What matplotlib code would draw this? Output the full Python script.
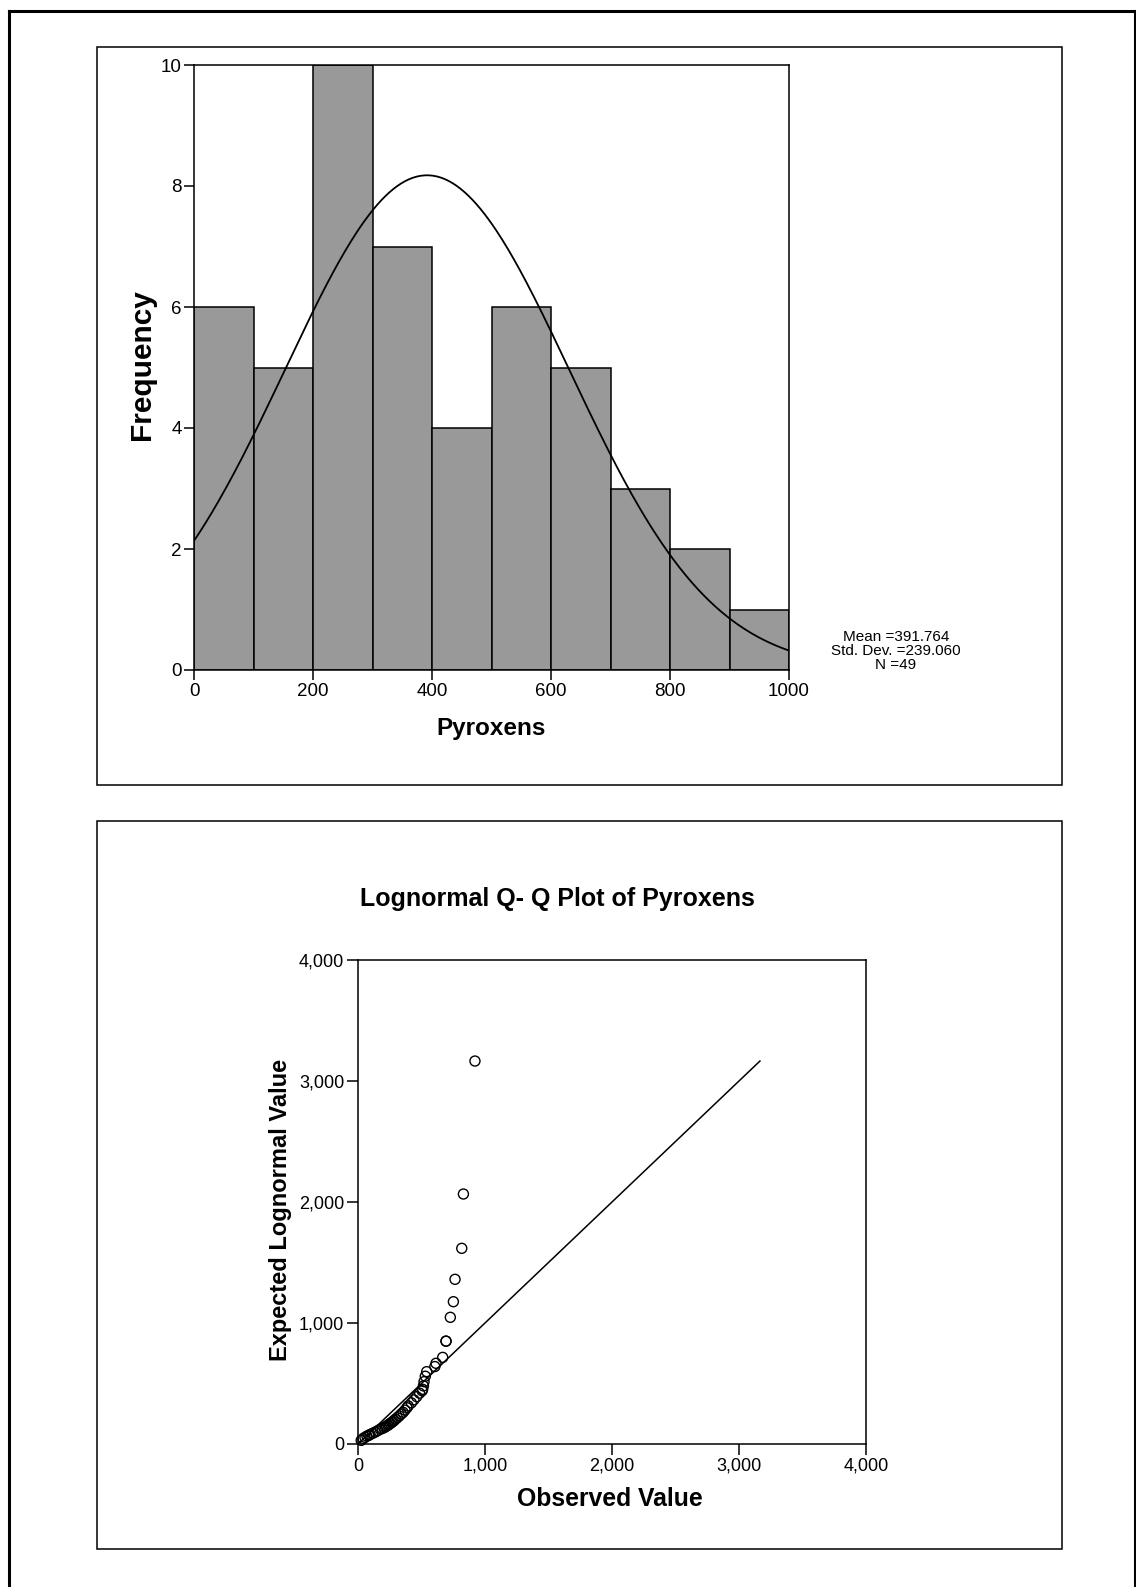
import matplotlib
matplotlib.use('Agg')
import matplotlib.pyplot as plt
from matplotlib.patches import Rectangle
from matplotlib.lines import Line2D
from matplotlib.ticker import FuncFormatter
import numpy as np

plt.rcParams['font.family'] = ['Liberation Sans', 'DejaVu Sans']

# Histogram data (Pyroxens)
bin_edges = [0, 100, 200, 300, 400, 500, 600, 700, 800, 900]
bin_counts = [6, 5, 10, 7, 4, 6, 5, 3, 2, 1]
mean_val = 391.764
std_val = 239.060
n_val = 49

# Lognormal Q-Q data: observed vs expected lognormal value
observed = [25, 40, 55, 70, 85, 95,
            115, 135, 155, 175, 190,
            205, 215, 225, 235, 245, 255, 265, 275, 285, 295,
            310, 325, 340, 355, 370, 385, 395,
            420, 440, 462, 485,
            505, 509, 515, 520, 530, 541,
            605, 614, 667, 693, 693,
            727, 751, 764,
            817, 830,
            921]
expected = [30, 45, 55, 65, 72, 78,
            88, 98, 110, 122, 128,
            135, 142, 148, 155, 162, 170, 178, 186, 195, 205,
            218, 232, 248, 262, 280, 300, 315,
            340, 365, 391, 420,
            440, 452, 480, 515, 560, 598,
            640, 667, 716, 850, 850,
            1047, 1176, 1361,
            1617, 2066,
            3165]

W, H = 1136, 1587
fig = plt.figure(figsize=(W / 100, H / 100), dpi=100)


def rect(l, t, r, b):
    return [l / W, 1 - b / H, (r - l) / W, (b - t) / H]


def ftext(x, y, s, **kw):
    fig.text(x / W, 1 - y / H, s, **kw)


# outer frame and the two panel boxes
fig.add_artist(Line2D([8.5 / W, 8.5 / W], [0, 1 - 10.5 / H], color='black', lw=2.2))
fig.add_artist(Line2D([8.5 / W, 1], [1 - 10.5 / H, 1 - 10.5 / H], color='black', lw=2.2))
fig.add_artist(Line2D([1134.5 / W, 1134.5 / W], [0, 1 - 10.5 / H], color='black', lw=2.2))
for (x0, y0, x1, y1) in [(97, 47, 1062, 785), (97, 821, 1062, 1549)]:
    fig.add_artist(Rectangle((x0 / W, 1 - y1 / H), (x1 - x0) / W, (y1 - y0) / H,
                             transform=fig.transFigure, fill=False,
                             edgecolor='black', lw=1.1))

# ---- Histogram ----
ax1 = fig.add_axes(rect(194, 65, 789, 670))
ax1.bar(bin_edges, bin_counts, width=100, align='edge', color='#999999',
        edgecolor='black', linewidth=1.1, zorder=2)
xs = np.linspace(0, 1000, 300)
curve = n_val * 100 / (std_val * np.sqrt(2 * np.pi)) * np.exp(-0.5 * ((xs - mean_val) / std_val) ** 2)
ax1.plot(xs, curve, color='black', lw=1.3, zorder=3)
ax1.set_xlim(0, 1000)
ax1.set_ylim(0, 10)
ax1.set_xticks([0, 200, 400, 600, 800, 1000])
ax1.set_yticks([0, 2, 4, 6, 8, 10])
ax1.tick_params(direction='out', length=7, width=1.1, labelsize=13.5, pad=2)
for sp in ax1.spines.values():
    sp.set_linewidth(1.1)
ftext(491, 728, 'Pyroxens', ha='center', va='center', fontsize=17.5, fontweight='bold')
ftext(142, 365, 'Frequency', ha='center', va='center', rotation=90,
      fontsize=21.5, fontweight='bold')

ftext(896, 651, 'Mean =391.764\nStd. Dev. =239.060\nN =49', ha='center', va='center',
      fontsize=11, linespacing=1.0)

# ---- Lognormal Q-Q plot ----
ftext(557, 899, 'Lognormal Q- Q Plot of Pyroxens', ha='center', va='center',
      fontsize=18, fontweight='bold')
ax2 = fig.add_axes(rect(358, 960, 866, 1444))
top = max(expected)
ax2.plot([0, top], [0, top], color='black', lw=1.1, zorder=2)
ax2.scatter(observed, expected, s=52, facecolors='none', edgecolors='black',
            linewidths=1.0, zorder=3, clip_on=False)
ax2.set_xlim(0, 4000)
ax2.set_ylim(0, 4000)
ax2.set_xticks([0, 1000, 2000, 3000, 4000])
ax2.set_yticks([0, 1000, 2000, 3000, 4000])
fmt = FuncFormatter(lambda v, p: f'{int(v):,}')
ax2.xaxis.set_major_formatter(fmt)
ax2.yaxis.set_major_formatter(fmt)
ax2.tick_params(direction='out', length=8, width=1.1, labelsize=13, pad=2)
for sp in ax2.spines.values():
    sp.set_linewidth(1.1)
ftext(610, 1499, 'Observed Value', ha='center', va='center', fontsize=17.8, fontweight='bold')
ftext(280, 1210, 'Expected Lognormal Value', ha='center', va='center', rotation=90,
      fontsize=17, fontweight='bold')

fig.savefig('out.png', dpi=100)
